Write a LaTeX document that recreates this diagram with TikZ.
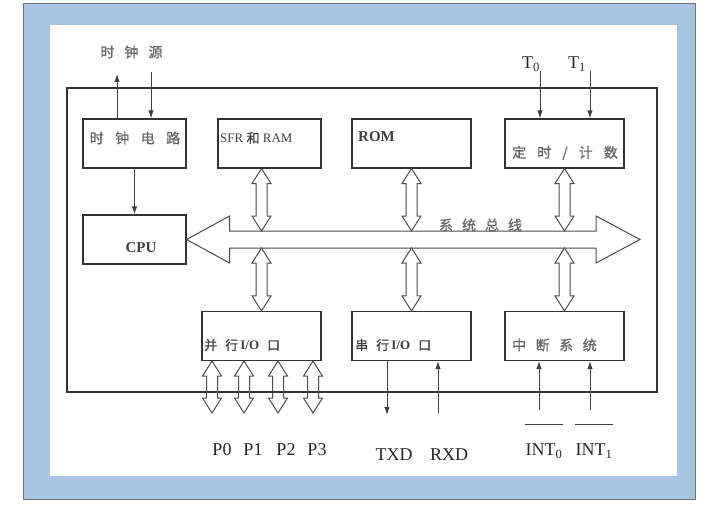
\documentclass[tikz,border=0pt]{standalone}
\usepackage{fontspec}
\setmainfont{Liberation Serif}
\newfontfamily\cjk[FakeBold=0.8]{Noto Sans CJK SC}
\usetikzlibrary{arrows.meta,calc}

\definecolor{framblue}{RGB}{167,197,227}
\newcommand{\zh}[1]{{\cjk #1}}

\tikzset{
  blk/.style={draw=black!80, line width=1.1pt, minimum width=#1, minimum height=49pt, inner sep=0pt},
  zhtext/.style={font=\cjk\fontsize{14}{16}\selectfont, text=black!60, inner sep=0pt},
  lat/.style={font=\fontsize{18}{20}\selectfont, text=black!85, inner sep=0pt},
  intext/.style={font=\fontsize{13}{15}\selectfont, text=black!75, inner sep=0pt},
  sig/.style={draw=black!75, line width=1pt, -{Latex[length=8pt,width=5.5pt]}},
  bar/.style={draw=black!75, line width=1pt},
  hollow/.style={draw=black!70, line width=1pt, to path={let \p1=(\tikztostart), \p2=(\tikztotarget) in
     (\x1,\y1) -- (\x1-9.5pt,\y1-15pt) -- (\x1-5.5pt,\y1-15pt) -- (\x1-5.5pt,\y2+15pt)
     -- (\x1-9.5pt,\y2+15pt) -- (\x1,\y2) -- (\x1+9.5pt,\y2+15pt) -- (\x1+5.5pt,\y2+15pt)
     -- (\x1+5.5pt,\y1-15pt) -- (\x1+9.5pt,\y1-15pt) -- cycle}},
  bus/.style={draw=black!70, line width=1pt, to path={let \p1=(\tikztostart), \p2=(\tikztotarget) in
     (\x1,\y1) -- (\x1+43pt,\y1+23.5pt) -- (\x1+43pt,\y1+8.5pt) -- (\x2-44pt,\y1+8.5pt)
     -- (\x2-44pt,\y1+23.5pt) -- (\x2,\y1) -- (\x2-44pt,\y1-23.5pt) -- (\x2-44pt,\y1-8.5pt)
     -- (\x1+43pt,\y1-8.5pt) -- (\x1+43pt,\y1-23.5pt) -- cycle}}
}

\begin{document}
\begin{tikzpicture}[x=1pt,y=-1pt]
\useasboundingbox (0,0) rectangle (706,513);
% frame
\fill[white] (0,0) rectangle (706,513);
\draw[draw=black!55, fill=framblue] (23,3) rectangle (695,499);
\fill[white] (50,25) rectangle (677,476);

% chip outline
\node[draw=black!80, line width=1.3pt, minimum width=590pt, minimum height=304pt, inner sep=0pt] (chip) at (362,240) {};

% blocks
\node[blk=103pt] (clk) at (134.5,143.5) {};
\node[blk=103pt] (sfr) at (269.5,143.5) {};
\node[blk=119pt] (rom) at (411.5,143.5) {};
\node[blk=119pt] (tmr) at (564.5,143.5) {};
\node[blk=103pt] (cpu) at (134.5,239.5) {};
\node[blk=119pt] (pio) at (261.5,336) {};
\node[blk=119pt] (sio) at (411.5,336) {};
\node[blk=119pt] (intr) at (564.5,336) {};

% block texts
\node[zhtext] (clkT) at (135,138) {时\hspace{11.5pt}钟\hspace{11.5pt}电\hspace{11.5pt}路};
\node[intext, anchor=west] (sfrT) at (220,138) {SFR \zh{和} RAM};
\node[intext, anchor=west, font=\fontsize{15}{17}\selectfont\bfseries] (romT) at (358,137) {ROM};
\node[zhtext] (tmrT) at (565,153) {定\hspace{11pt}时\hspace{11pt}/\hspace{11pt}计\hspace{11pt}数};
\node[intext, font=\fontsize{15}{17}\selectfont\bfseries] (cpuT) at (141,248) {CPU};
\node[intext, anchor=west] (pioT) at (204,345) {\zh{并\hspace{8pt}行}\,\textbf{I/O}\hspace{8pt}\zh{口}};
\node[intext, anchor=west] (sioT) at (355,345) {\zh{串\hspace{8pt}行}\,\textbf{I/O}\hspace{8pt}\zh{口}};
\node[zhtext, anchor=west] (intrT) at (512,345) {中\hspace{9.5pt}断\hspace{9.5pt}系\hspace{9.5pt}统};

% system bus
\coordinate (busR) at (640,239.5);
\coordinate (busN) at (400,231);
\coordinate (busS) at (400,248);
\draw[bus] (cpu.east) to (busR);
\node[zhtext] (busT) at (480.5,225) {系\hspace{9pt}统\hspace{9pt}总\hspace{9pt}线};

% bus links
\draw[hollow] (sfr.south -| pio.north) to (busN -| pio.north);
\draw[hollow] (rom.south) to (busN -| rom.south);
\draw[hollow] (tmr.south) to (busN -| tmr.south);
\draw[hollow] (busS -| pio.north) to (pio.north);
\draw[hollow] (busS -| sio.north) to (sio.north);
\draw[hollow] (busS -| intr.north) to (intr.north);

% clock source
\coordinate (clkOut) at (117,74);
\coordinate (clkIn) at (151,72);
\draw[sig] (clkOut |- clk.north) -- (clkOut);
\draw[sig] (clkIn) -- (clkIn |- clk.north);
\node[zhtext] (osc) at (131.5,52) {时\hspace{10pt}钟\hspace{10pt}源};
\draw[sig] (clk.south) -- (cpu.north);

% timer inputs
\coordinate (t0) at (540,71);
\coordinate (t1) at (590,71);
\draw[sig] (t0) -- (t0 |- tmr.north);
\draw[sig] (t1) -- (t1 |- tmr.north);
\node[lat] (t0T) at (531,64) {T\textsubscript{0}};
\node[lat] (t1T) at (577,64) {T\textsubscript{1}};

% parallel ports
\foreach \i/\px/\lx in {0/212/222,1/244/253,2/278/286,3/313/317} {
  \coordinate (port\i) at (\px,413);
  \draw[hollow] (port\i |- pio.south) to (port\i);
  \node[lat] (p\i) at (\lx,450) {P\i};
}

% serial port
\coordinate (txd0) at (387,415);
\coordinate (rxd0) at (438,413);
\draw[sig] (txd0 |- sio.south) -- (txd0);
\draw[sig] (rxd0) -- (rxd0 |- sio.south);
\node[lat] (txd) at (394,455) {TXD};
\node[lat] (rxd) at (449,455) {RXD};

% interrupts
\coordinate (int0) at (539,410);
\coordinate (int1) at (590,410);
\draw[sig] (int0) -- (int0 |- intr.south);
\draw[sig] (int1) -- (int1 |- intr.south);
\node[lat] (int0T) at (544,451) {INT\textsubscript{0}};
\node[lat] (int1T) at (594,451) {INT\textsubscript{1}};
\draw[bar] ([yshift=19pt]int0T.north west) -- ([yshift=19pt]int0T.north east);
\draw[bar] ([yshift=19pt]int1T.north west) -- ([yshift=19pt]int1T.north east);

\end{tikzpicture}
\end{document}
